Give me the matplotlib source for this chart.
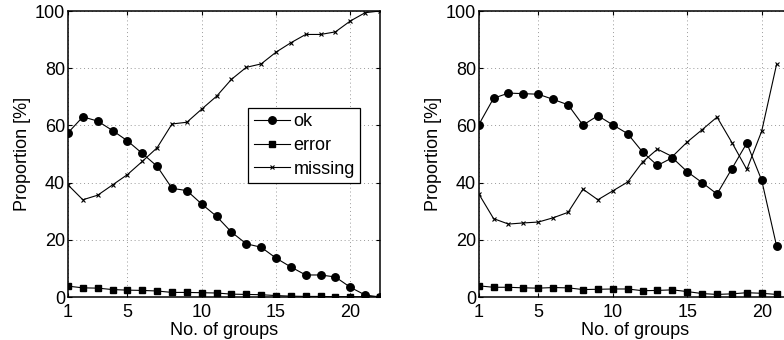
import numpy as np
import matplotlib
matplotlib.use("Agg")
import matplotlib.pyplot as plt

plt.rcParams['font.family'] = ['Liberation Sans', 'DejaVu Sans']

# left panel
x_left = list(range(1, 23))
ok_left = [57.4, 63.0, 61.5, 58.2, 54.6, 50.2, 45.7, 38.0, 37.2, 32.5, 28.2,
           22.7, 18.6, 17.4, 13.6, 10.5, 7.7, 7.7, 7.0, 3.4, 0.7, 0.0]
error_left = [3.8, 3.2, 3.1, 2.6, 2.4, 2.3, 2.1, 1.6, 1.6, 1.5, 1.4,
              1.0, 0.9, 0.8, 0.5, 0.3, 0.2, 0.2, 0.1, 0.1, 0.1, 0.0]
missing_left = [39.2, 34.0, 35.6, 39.2, 42.8, 47.4, 52.2, 60.5, 61.1, 65.7, 70.2,
                76.1, 80.3, 81.5, 85.6, 88.9, 91.8, 91.8, 92.7, 96.5, 99.4, 100.0]

# right panel
x_right = list(range(1, 22))
ok_right = [60.2, 69.5, 71.3, 71.1, 70.9, 69.1, 67.2, 60.1, 63.4, 60.2, 57.1,
            50.7, 46.0, 48.7, 43.8, 40.0, 36.0, 44.9, 53.8, 40.8, 17.8]
error_right = [3.9, 3.4, 3.4, 3.2, 3.1, 3.3, 3.2, 2.6, 2.7, 2.8, 2.8,
               2.2, 2.3, 2.5, 1.9, 1.2, 0.9, 1.1, 1.5, 1.3, 0.9]
missing_right = [36.1, 27.4, 25.5, 25.9, 26.2, 27.7, 29.6, 37.7, 34.0, 37.1, 40.2,
                 47.2, 51.7, 49.1, 54.2, 58.5, 62.9, 54.0, 44.6, 58.0, 81.4]

xticks = [1, 5, 10, 15, 20]
yticks = [0, 20, 40, 60, 80, 100]

fig = plt.figure(figsize=(7.84, 3.4), dpi=100)
ax1 = fig.add_axes([68/784, 43/340, 312/784, 286/340])
ax2 = fig.add_axes([478.7/784, 43/340, 312.8/784, 286/340])

def draw(ax, x, ok, err, miss):
    ax.plot(x, ok, color='k', lw=0.8, marker='o', ms=5.4, label='ok')
    ax.plot(x, err, color='k', lw=0.8, marker='s', ms=4.0, label='error')
    ax.plot(x, miss, color='k', lw=0.8, marker='x', ms=3.5, mew=0.8, label='missing')
    ax.set_xlim(1, 22)
    ax.set_ylim(0, 100)
    ax.set_xticks(xticks)
    ax.set_yticks(yticks)
    ax.grid(True, linestyle=(0, (1, 3)), color='#999999', lw=0.7)
    ax.tick_params(direction='in', length=3, labelsize=13, top=True, right=True, pad=2)
    ax.tick_params(axis='x', pad=5)
    for s in ax.spines.values():
        s.set_linewidth(1.1)
    ax.set_xlabel('No. of groups', fontsize=13, labelpad=1)
    ax.set_ylabel('Proportion [%]', fontsize=13, labelpad=3)
    for lab in ax.get_xticklabels() + ax.get_yticklabels():
        lab.set_clip_on(False)

draw(ax1, x_left, ok_left, error_left, missing_left)
draw(ax2, x_right, ok_right, error_right, missing_right)

leg = ax1.legend(loc='upper left', bbox_to_anchor=(0.578, 0.662), fontsize=13,
                 fancybox=False, framealpha=1, edgecolor='k', handlelength=2.0,
                 handletextpad=0.2, borderpad=0.3, labelspacing=0.38, borderaxespad=0)
leg.get_frame().set_linewidth(0.9)

fig.savefig('out.png', dpi=100)
